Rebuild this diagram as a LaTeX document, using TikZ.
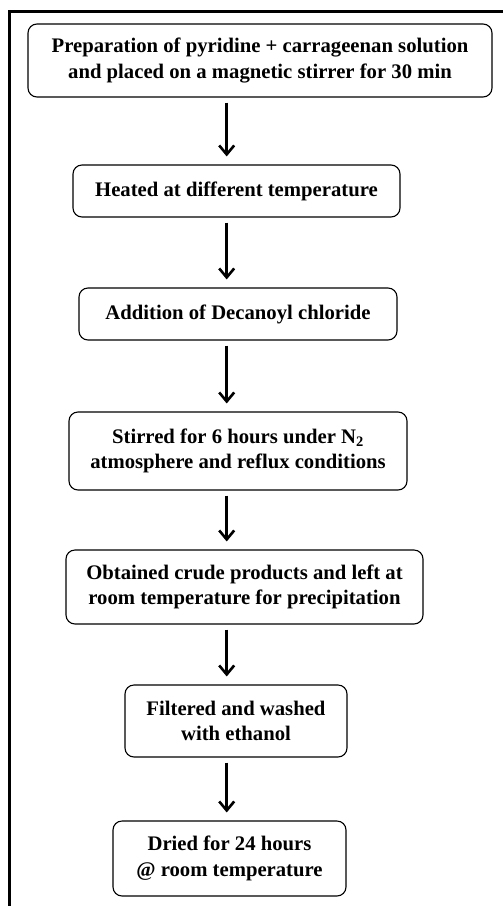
\documentclass[tikz,border=0pt]{standalone}
\usepackage{fontspec}
\setmainfont{Liberation Serif}
\usetikzlibrary{arrows.meta}
\begin{document}
\begin{tikzpicture}[x=1pt,y=-1pt,
    stepbox/.style={draw,rounded corners=9pt,line width=1.1pt,align=center,
      inner sep=0pt,font=\fontsize{20.7}{25.5}\selectfont\bfseries},
    flow/.style={line width=2.6pt,-{Straight Barb[length=9pt,width=15pt,line width=2.6pt]},
      shorten <=5pt,shorten >=8pt}]
    \useasboundingbox (0,0) rectangle (503,906);
    \draw[line width=3.6pt,line join=miter] (9.5,906) -- (9.5,11.5) -- (503,11.5);
    \node[stepbox,minimum width=464pt,minimum height=73pt] (1) at (260,60.5)
      {Preparation of pyridine + carrageenan solution\\and placed on a magnetic stirrer for 30 min};
    \node[stepbox,minimum width=327pt,minimum height=52pt] (2) at (236.5,191)
      {Heated at different temperature};
    \node[stepbox,minimum width=318pt,minimum height=52pt] (3) at (238,314)
      {Addition of Decanoyl chloride};
    \node[stepbox,minimum width=338pt,minimum height=78pt] (4) at (238,451)
      {Stirred for 6 hours under N\textsubscript{2}\\atmosphere and reflux conditions};
    \node[stepbox,minimum width=357pt,minimum height=74pt] (5) at (244.5,587)
      {Obtained crude products and left at\\room temperature for precipitation};
    \node[stepbox,minimum width=222pt,minimum height=72pt] (6) at (236,721)
      {Filtered and washed\\with ethanol};
    \node[stepbox,minimum width=233pt,minimum height=75pt] (7) at (229.5,858.5)
      {Dried for 24 hours\\@ room temperature};
    \coordinate (a) at (226.7,0);
    \foreach \i/\j in {1/2,2/3,3/4,4/5,5/6,6/7}
      \draw[flow] (\i.south -| a) -- (\j.north -| a);
  \end{tikzpicture}
\end{document}
